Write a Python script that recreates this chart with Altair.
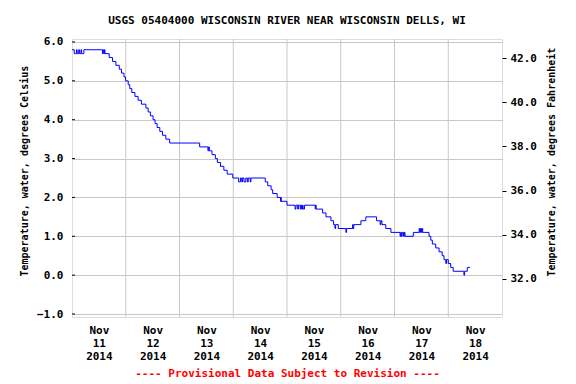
import altair as alt
import pandas as pd

# hours since 2014-11-11 00:00 and water temperature (deg C), step changes
hours = [0.0, 1.0, 2.0, 2.3, 3.0, 3.3, 4.0, 4.3, 5.3, 13.6, 13.9, 14.2, 14.5, 14.7,
         16.6, 18.1, 19.6, 21.1, 22.1, 23.2, 23.9, 25.1, 25.8, 26.7, 28.1, 29.5,
         31.0, 33.0, 34.0, 35.0, 36.2, 37.1, 38.0, 39.2, 40.4, 41.9, 43.6,
         57.0, 60.7, 61.0, 61.3, 62.5, 64.0, 64.9, 66.3, 67.8, 69.3, 71.8,
         74.4, 75.2, 75.8, 76.1, 76.8, 77.6, 78.3, 78.7, 79.6, 79.9,
         86.3, 87.4, 88.9, 89.6, 91.6, 93.1, 93.3, 93.4, 96.0,
         99.6, 100.0, 100.8, 101.1, 101.9, 102.2, 102.5, 102.9, 103.2, 103.8,
         108.6, 108.8, 109.0, 111.9, 113.4, 115.6, 116.8, 117.4, 117.7, 118.9,
         122.3, 122.6, 125.3, 125.5, 125.8, 129.0, 131.2, 136.0, 137.6, 137.9,
         138.4, 140.1, 142.4, 146.5, 146.8, 147.1, 147.4, 148.0, 148.4, 148.7,
         152.4, 155.0, 155.3, 155.6, 156.0, 156.3, 156.6, 157.2, 159.4,
         160.2, 160.9, 162.4, 163.9, 165.3, 166.1, 166.9, 167.2, 168.0,
         169.1, 170.2, 175.0, 175.3, 176.5, 177.7]
temps = [5.8, 5.7, 5.8, 5.7, 5.8, 5.7, 5.8, 5.7, 5.8, 5.7, 5.8, 5.7, 5.8, 5.7,
         5.6, 5.5, 5.4, 5.3, 5.2, 5.1, 5.0, 4.9, 4.8, 4.7, 4.6, 4.5,
         4.4, 4.3, 4.2, 4.1, 4.0, 3.9, 3.8, 3.7, 3.6, 3.5, 3.4,
         3.3, 3.2, 3.3, 3.2, 3.1, 3.0, 2.9, 2.8, 2.7, 2.6, 2.5,
         2.4, 2.5, 2.4, 2.5, 2.4, 2.5, 2.4, 2.5, 2.4, 2.5,
         2.4, 2.3, 2.2, 2.1, 2.0, 1.9, 2.0, 1.9, 1.8,
         1.7, 1.8, 1.7, 1.8, 1.7, 1.8, 1.7, 1.8, 1.7, 1.8,
         1.7, 1.8, 1.7, 1.6, 1.5, 1.4, 1.3, 1.2, 1.3, 1.2,
         1.1, 1.2, 1.3, 1.2, 1.3, 1.4, 1.5, 1.4, 1.3, 1.4,
         1.3, 1.2, 1.1, 1.0, 1.1, 1.0, 1.1, 1.0, 1.1, 1.0,
         1.1, 1.2, 1.1, 1.2, 1.1, 1.2, 1.1, 1.1, 1.0,
         0.9, 0.8, 0.7, 0.6, 0.5, 0.4, 0.3, 0.4, 0.3,
         0.2, 0.1, 0.0, 0.1, 0.2, 0.2]

day_label_hours = [12, 36, 60, 84, 108, 132, 156, 180]
midnight_hours = [24, 48, 72, 96, 120, 144, 168]
c_ticks = [-1, 0, 1, 2, 3, 4, 5, 6]
f_ticks = [32, 34, 36, 38, 40, 42]

FONT = "DejaVu Sans Mono"

df = pd.DataFrame({"hour": hours, "temp": temps})
df["tempF"] = df["temp"] * 1.8 + 32

xscale = alt.Scale(domain=[0, 192], nice=False, zero=False)
cscale = alt.Scale(domain=[-1.077, 6.077], nice=False, zero=False)
fscale = alt.Scale(domain=[30.26, 42.88], nice=False, zero=False)

xaxis = alt.Axis(values=day_label_hours, tickCount=20, grid=False, ticks=False, domain=False,
                 labelExpr="['Nov', '' + (11 + floor(datum.value / 24)), '2014']",
                 labelLineHeight=13, labelPadding=7, labelOverlap=False, labelFlush=False,
                 labelFont=FONT, labelFontSize=11, labelFontWeight="bold", labelColor="black",
                 title="---- Provisional Data Subject to Revision ----",
                 titleColor="#ff0000", titleFont=FONT, titleFontSize=11,
                 titleFontWeight="bold", titlePadding=6)

vgrid = alt.Chart(pd.DataFrame({"hour": midnight_hours})).mark_rule(
    color="#c8c8c8", strokeWidth=1).encode(x=alt.X("hour:Q", scale=xscale, axis=xaxis))

inticks = alt.Chart(pd.DataFrame({"temp": c_ticks})).mark_rule(
    color="black", strokeWidth=1).encode(
    y=alt.Y("temp:Q", scale=cscale),
    x=alt.value(0), x2=alt.value(3))

line = alt.Chart(df).mark_line(interpolate="step-after", color="#0000ff", strokeWidth=1).encode(
    x=alt.X("hour:Q", scale=xscale),
    y=alt.Y("temp:Q", scale=cscale,
            axis=alt.Axis(values=c_ticks, tickCount=20, format=".1f", ticks=False, domain=False,
                          grid=True, gridColor="#c8c8c8", gridWidth=1,
                          labelOverlap=False, labelFlush=False,
                          labelPadding=9, labelFont=FONT, labelFontSize=11,
                          labelFontWeight="bold", labelColor="black",
                          title="Temperature, water, degrees Celsius",
                          titleFont=FONT, titleFontSize=10, titleFontWeight="bold",
                          titleColor="black", titlePadding=7,
                          titleAlign="left", titleY=237)))

fahr = alt.Chart(df).mark_line(opacity=0).encode(
    x=alt.X("hour:Q", scale=xscale),
    y=alt.Y("tempF:Q", scale=fscale,
            axis=alt.Axis(orient="right", values=f_ticks, tickCount=20, format=".1f", grid=False,
                          domain=False, ticks=True, tickSize=4, tickColor="black",
                          labelOverlap=False, labelFlush=False,
                          labelPadding=4, labelFont=FONT, labelFontSize=11,
                          labelFontWeight="bold", labelColor="black",
                          title="Temperature, water, degrees Fahrenheit",
                          titleFont=FONT, titleFontSize=10, titleFontWeight="bold",
                          titleColor="black", titlePadding=10, titleAngle=270,
                          titleBaseline="top", titleAlign="left", titleY=237)))

inner = alt.layer(vgrid, inticks, line)

chart = alt.layer(inner, fahr).resolve_scale(y="independent").properties(
    width=430, height=278,
    padding={"left": 11, "top": 6, "right": 5, "bottom": 5},
    title=alt.TitleParams("USGS 05404000 WISCONSIN RIVER NEAR WISCONSIN DELLS, WI",
                          font=FONT, fontSize=11, fontWeight="bold", color="black",
                          anchor="middle", offset=10),
).configure_view(stroke="black", strokeWidth=1).configure(background="white")

chart.save("out.html", embed_options={"renderer": "svg", "actions": False})
